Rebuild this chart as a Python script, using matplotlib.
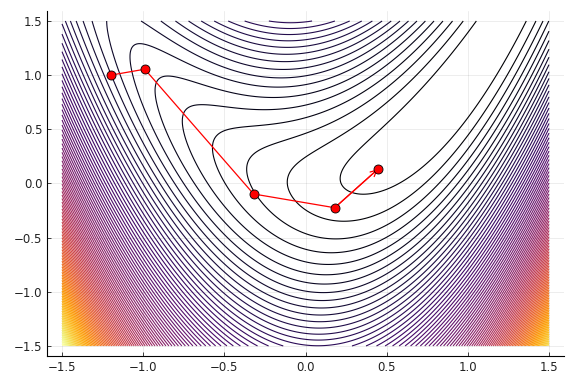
import numpy as np
import matplotlib
matplotlib.use("Agg")
import matplotlib.pyplot as plt

# optimizer path
path_x = [-1.2, -0.99, -0.32, 0.18, 0.445]
path_y = [1.0, 1.055, -0.097, -0.224, 0.131]

# surface: rosenbrock-like valley, b = 4
b = 4.0
xs = np.linspace(-1.5, 1.5, 301)
ys = np.linspace(-1.5, 1.5, 301)
X, Y = np.meshgrid(xs, ys)
Z = (1 - X) ** 2 + b * (Y - X ** 2) ** 2
n_levels = 100
levels = np.linspace(Z.min(), Z.max(), n_levels + 2)[1:-1]

fig = plt.figure(figsize=(5.76, 3.84), dpi=100)
ax = fig.add_axes([0.0823, 0.0737, 0.9785 - 0.0823, 0.9707 - 0.0737])

ax.contour(X, Y, Z, levels=levels, cmap="inferno", linewidths=0.8)

ax.plot(path_x, path_y, color="red", lw=0.9, marker="o", ms=6.5,
        mfc="red", mec="black", mew=0.6, zorder=5)
ax.annotate("", xy=(path_x[-1], path_y[-1]), xytext=(path_x[-2], path_y[-2]),
            arrowprops=dict(arrowstyle="->", color="red", lw=0.9,
                            shrinkA=0, shrinkB=0, mutation_scale=11),
            zorder=4)

ax.set_xlim(-1.59, 1.59)
ax.set_ylim(-1.59, 1.59)
ticks = [-1.5, -1.0, -0.5, 0.0, 0.5, 1.0, 1.5]
labels = ["\u22121.5", "\u22121.0", "\u22120.5", "0.0", "0.5", "1.0", "1.5"]
ax.set_xticks(ticks)
ax.set_yticks(ticks)
ax.set_xticklabels(labels)
ax.set_yticklabels(labels)
ax.grid(True, color="black", alpha=0.1, lw=0.5)
ax.set_axisbelow(True)
for s in ["top", "right"]:
    ax.spines[s].set_visible(False)
for s in ["left", "bottom"]:
    ax.spines[s].set_linewidth(0.8)
ax.tick_params(direction="in", length=3, width=0.6, labelsize=8.5, colors="#222222")

fig.savefig("out.png", dpi=100)
